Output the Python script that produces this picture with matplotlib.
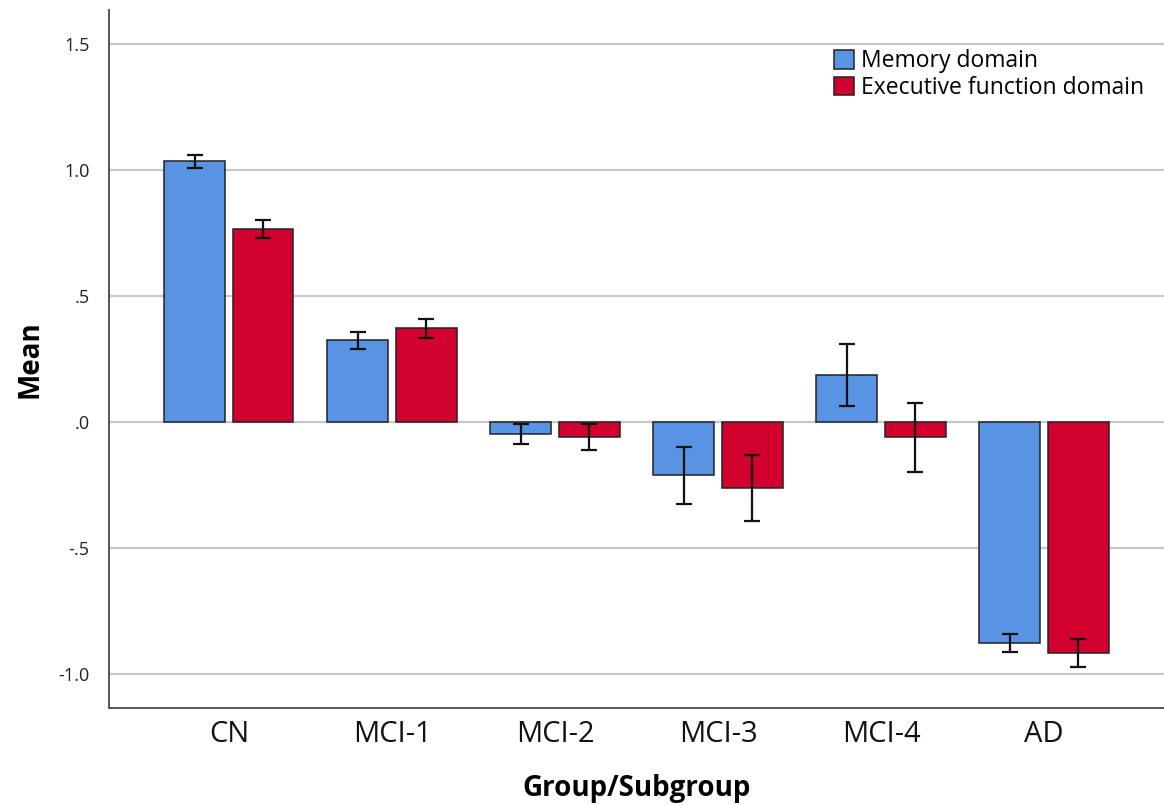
import matplotlib

matplotlib.use("Agg")
import matplotlib.pyplot as plt
import numpy as np

# Mean domain scores per group, with error bar ends
groups = ["CN", "MCI-1", "MCI-2", "MCI-3", "MCI-4", "AD"]
memory_mean = [1.036, 0.325, -0.048, -0.210, 0.187, -0.877]
memory_lo = [1.008, 0.290, -0.087, -0.325, 0.063, -0.913]
memory_hi = [1.060, 0.357, -0.008, -0.099, 0.310, -0.840]
exec_mean = [0.766, 0.373, -0.060, -0.262, -0.060, -0.917]
exec_lo = [0.730, 0.333, -0.111, -0.393, -0.198, -0.972]
exec_hi = [0.800, 0.410, -0.008, -0.131, 0.075, -0.861]

y_ticks = [-1.0, -0.5, 0.0, 0.5, 1.0, 1.5]
y_ticklabels = ["-1.0", "-.5", ".0", ".5", "1.0", "1.5"]

BLUE = "#5894E3"
RED = "#D2002E"

plt.rcParams["font.family"] = ["Open Sans", "DejaVu Sans"]

fig = plt.figure(figsize=(11.64, 8.06), dpi=100)
ax = fig.add_axes([0.0936, 0.1216, 0.9064, 0.866])

x = np.arange(len(groups))
w = 0.374
off = 0.209


def err(mean, lo, hi):
    m = np.array(mean)
    return [m - np.array(lo), np.array(hi) - m]


ax.bar(x - off, memory_mean, w, color=BLUE, edgecolor="#222222", linewidth=1.1,
       label="Memory domain", zorder=3)
ax.bar(x + off, exec_mean, w, color=RED, edgecolor="#222222", linewidth=1.1,
       label="Executive function domain", zorder=3)
ax.errorbar(x - off, memory_mean, yerr=err(memory_mean, memory_lo, memory_hi),
            fmt="none", ecolor="#111111", elinewidth=1.6, capsize=6, capthick=1.6, zorder=4)
ax.errorbar(x + off, exec_mean, yerr=err(exec_mean, exec_lo, exec_hi),
            fmt="none", ecolor="#111111", elinewidth=1.6, capsize=6, capthick=1.6, zorder=4)

ax.set_xlim(-0.736, 5.736)
ax.set_ylim(-1.135, 1.635)
ax.set_yticks(y_ticks)
ax.set_yticklabels(y_ticklabels, fontsize=13, color="#222222")
ax.set_xticks(x)
ax.set_xticklabels(groups, fontsize=21, color="#111111")
ax.tick_params(length=0)
ax.tick_params(axis="x", pad=9)
ax.tick_params(axis="y", pad=14)

ax.yaxis.grid(True, color="#c8c8c8", linewidth=1.6, zorder=0)
ax.set_axisbelow(True)
for s in ["top", "right"]:
    ax.spines[s].set_visible(False)
for s in ["left", "bottom"]:
    ax.spines[s].set_color("#555555")
    ax.spines[s].set_linewidth(1.4)

ax.set_ylabel("Mean", fontsize=20, fontweight="bold", labelpad=10)
ax.set_xlabel("Group/Subgroup", fontsize=20, fontweight="bold", labelpad=18)

ax.legend(loc="upper left", bbox_to_anchor=(0.6765, 0.96), frameon=False,
          fontsize=16.5, handlelength=0.85, handleheight=0.85, handletextpad=0.3,
          labelspacing=0.1, borderpad=0)

fig.savefig("out.png", dpi=100)
